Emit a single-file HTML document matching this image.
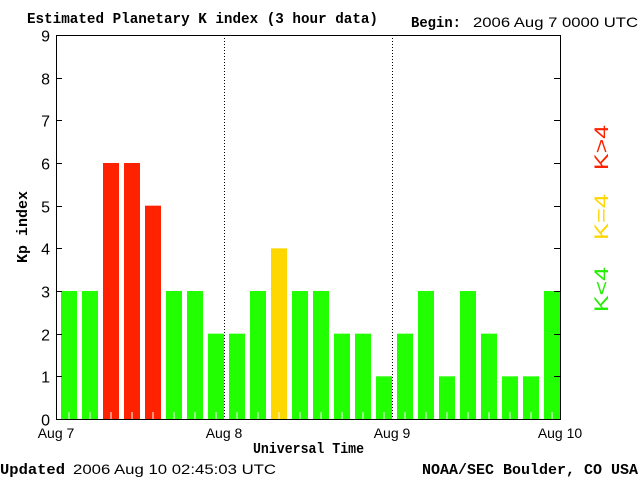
<!DOCTYPE html>
<html><head><meta charset="utf-8"><style>
body{margin:0;background:#fff;}
svg{display:block;}
.s{font-family:"Liberation Sans",sans-serif;font-size:15px;fill:#000;}
.b{font-family:"Liberation Mono",monospace;font-size:15px;font-weight:bold;fill:#000;}
</style></head><body>
<svg id="c" width="640" height="480" xmlns="http://www.w3.org/2000/svg">
<text class="b" x="27" y="23" textLength="351" lengthAdjust="spacingAndGlyphs">Estimated Planetary K index (3 hour data)</text>
<text class="b" x="411" y="27" textLength="50" lengthAdjust="spacingAndGlyphs">Begin:</text>
<text class="s" x="473" y="27" style="font-size:14px" textLength="165" lengthAdjust="spacingAndGlyphs">2006 Aug 7 0000 UTC</text>
<text class="b" x="0" y="474" textLength="65" lengthAdjust="spacingAndGlyphs">Updated</text>
<text class="s" x="73" y="474" style="font-size:14px" textLength="203" lengthAdjust="spacingAndGlyphs">2006 Aug 10 02:45:03 UTC</text>
<text class="b" x="422" y="474" textLength="216" lengthAdjust="spacingAndGlyphs">NOAA/SEC Boulder, CO USA</text>
<text class="b" x="253" y="453" textLength="111" lengthAdjust="spacingAndGlyphs">Universal Time</text>
<text class="b" transform="translate(27,227) rotate(-90)" text-anchor="middle">Kp index</text>
<text class="s" transform="translate(608,312) rotate(-90)" textLength="45" lengthAdjust="spacingAndGlyphs" style="fill:#22ee00;font-size:19px">K&lt;4</text>
<text class="s" transform="translate(608,240) rotate(-90)" textLength="46" lengthAdjust="spacingAndGlyphs" style="fill:#ffd700;font-size:19px">K=4</text>
<text class="s" transform="translate(608,170) rotate(-90)" textLength="45" lengthAdjust="spacingAndGlyphs" style="fill:#ff2200;font-size:19px">K&gt;4</text>
<g id="plot"></g>
</svg>
<script>
const kpValues=[3,3,6,6,5,3,3,2, 2,3,4,3,3,2,2,1, 2,3,1,3,2,1,1,3];
const yTicks=[0,1,2,3,4,5,6,7,8,9];
const dayLabels=["Aug 7","Aug 8","Aug 9","Aug 10"];
const L=56,R=560,T=35,B=419,NS="http://www.w3.org/2000/svg";
const g=document.getElementById('plot');
const slot=(R-L)/kpValues.length;
const xs=i=>L+i*slot;
const ys=v=>B-(v/9)*(B-T);
function mk(t,a){const e=document.createElementNS(NS,t);for(const k in a)e.setAttribute(k,a[k]);g.appendChild(e);return e;}
kpValues.forEach((v,i)=>{
 const col=v>4?'#ff2200':(v==4?'#ffd700':'#22ff00');
 const r=mk('rect',{x:xs(i)+5,y:ys(v),width:slot-5,height:B-ys(v),fill:col});
 
 
 const t=mk('line',{x1:xs(i)+5+(slot-5)/2,x2:xs(i)+5+(slot-5)/2,y1:B,y2:B-7,stroke:'#fff','stroke-width':1});
 
 
});
for(let d=1;d<dayLabels.length-1;d++){
 const x=L+d*(R-L)/3+0.5;
 const l=mk('line',{x1:x,x2:x,y1:T,y2:B,stroke:'#000','stroke-dasharray':'1,2'});
 
 
}
const f=mk('rect',{x:L+0.5,y:T+0.5,width:R-L,height:B-T,fill:'none',stroke:'#000','stroke-width':1});


yTicks.forEach(v=>{
 const y=Math.round(ys(v))+0.5;
 mk('line',{x1:L,x2:L+6,y1:y,y2:y,stroke:'#000'});
 mk('line',{x1:R-6,x2:R,y1:y,y2:y,stroke:'#000'});
 const t=mk('text',{x:L-6,y:y+6,'text-anchor':'end',class:'s',style:'font-size:16px'});t.textContent=v;
 
 
});
dayLabels.forEach((s,d)=>{
 const t=mk('text',{x:L+d*(R-L)/3,y:438,'text-anchor':'middle',class:'s',style:'font-size:14px'});t.textContent=s;
 
 
});
</script>
</body></html>
